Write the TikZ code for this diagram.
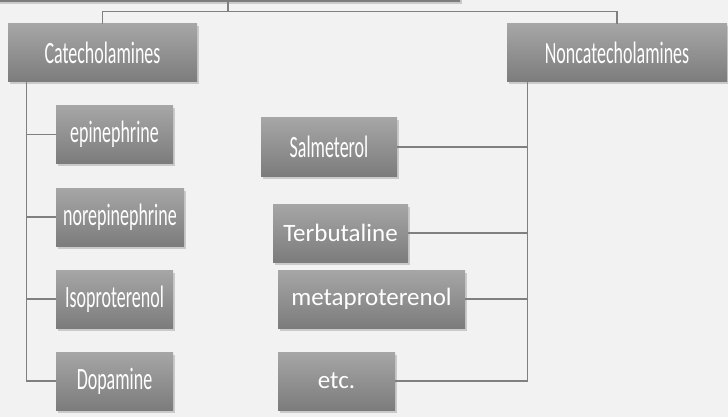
\documentclass[tikz,border=0pt]{standalone}
\usepackage{fontspec}
\setmainfont{Carlito}
\newfontfamily\narrowfont[FakeStretch=0.58]{Carlito}
\usetikzlibrary{positioning, shadows}
\definecolor{bg}{RGB}{242,242,242}
\definecolor{boxtop}{RGB}{166,166,166}
\definecolor{boxbot}{RGB}{124,124,124}
\definecolor{wire}{RGB}{128,128,128}

\tikzset{
  drug/.style={rectangle, top color=boxtop, bottom color=boxbot, text=white, inner sep=0pt,
    drop shadow={shadow xshift=1.5pt, shadow yshift=-2.5pt, opacity=0.35}},
  narrow/.style={drug, font=\narrowfont\fontsize{31}{34}\selectfont},
  wide/.style={drug, font=\fontsize{25}{28}\selectfont},
  wire/.style={draw=wire, line width=1.3pt}
}

\begin{document}
\begin{tikzpicture}[x=1pt, y=-1pt]
                \fill[bg] (0,0) rectangle (728,417);
                \useasboundingbox (0,0) rectangle (728,417);

                % Top box, cut off by the page
                \node[drug, minimum width=464pt, minimum height=56pt] (top) at (228,-26) {};

                % Two groups
                \node[narrow, minimum width=189pt, minimum height=58pt] (cat) at (102.5,53) {Catecholamines};
                \node[narrow, minimum width=220pt, minimum height=58pt] (noncat) at (617,53) {Noncatecholamines};
                \draw[wire] (top.south) -- ++(0,9) -| (cat.north);
                \draw[wire] (top.south) -- ++(0,9) -| (noncat.north);

                % Catecholamines
                \node[narrow, minimum width=117pt, minimum height=57pt] (epi) at (114.5,134.5) {epinephrine};
                \node[narrow, minimum width=128pt, minimum height=58pt] (norepi) at (120,217) {norepinephrine};
                \node[narrow, minimum width=117pt, minimum height=58pt] (iso) at (114.5,299) {Isoproterenol};
                \node[narrow, minimum width=117pt, minimum height=58pt] (dopa) at (114.5,381) {Dopamine};
                \coordinate (catbus) at ([xshift=19pt]cat.south west);
                \draw[wire] (catbus) |- (dopa.west);
                \draw[wire] (catbus |- epi.west) -- (epi.west);
                \draw[wire] (catbus |- norepi.west) -- (norepi.west);
                \draw[wire] (catbus |- iso.west) -- (iso.west);

                % Noncatecholamines
                \node[narrow, minimum width=136pt, minimum height=58pt] (salm) at (329,147) {Salmeterol};
                \node[wide, minimum width=135pt, minimum height=58pt] (terb) at (340.5,233) {Terbutaline};
                \node[wide, minimum width=187pt, minimum height=58pt] (meta) at (371.5,299) {metaproterenol};
                \node[wide, minimum width=117pt, minimum height=58pt] (etc) at (336.5,381) {etc.};
                \coordinate (ncbus) at ([xshift=21pt]noncat.south west);
                \draw[wire] (ncbus) |- (etc.east);
                \draw[wire] (salm.east) -- (ncbus |- salm.east);
                \draw[wire] (terb.east) -- (ncbus |- terb.east);
                \draw[wire] (meta.east) -- (ncbus |- meta.east);
            \end{tikzpicture}
\end{document}
